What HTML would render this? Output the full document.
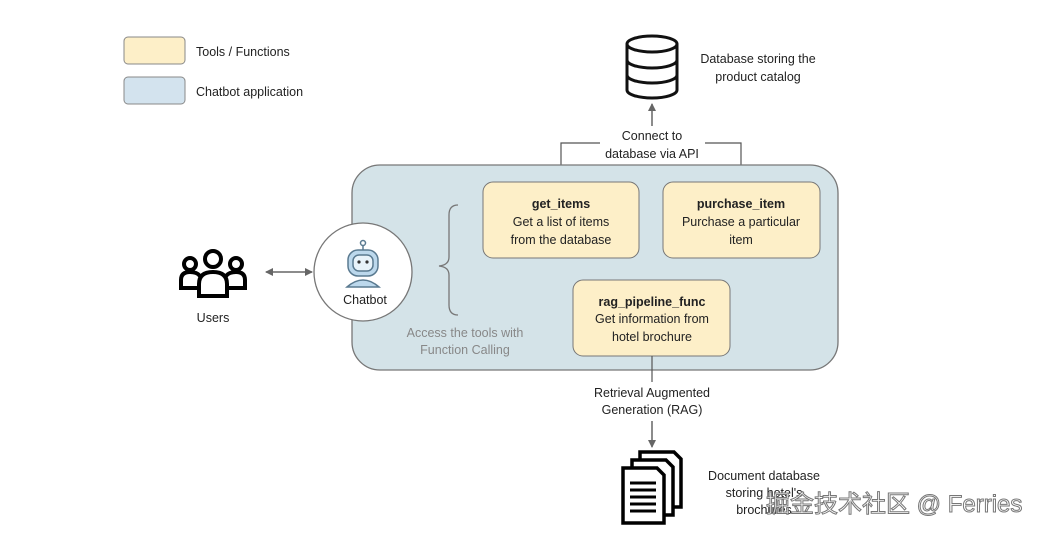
<!DOCTYPE html>
<html><head><meta charset="utf-8"><style>
body{margin:0;background:#fff;}
svg text{font-family:"Liberation Sans","DejaVu Sans",sans-serif;font-size:12.5px;fill:#222;}
</style></head><body>
<svg width="1046" height="534" viewBox="0 0 1046 534" xmlns="http://www.w3.org/2000/svg">
<defs>
<marker id="a" markerWidth="8" markerHeight="8" refX="7" refY="4" orient="auto" markerUnits="userSpaceOnUse"><path d="M0,0 L8,4 L0,8z" fill="#666"/></marker>
<marker id="b" markerWidth="8" markerHeight="8" refX="1" refY="4" orient="auto" markerUnits="userSpaceOnUse"><path d="M8,0 L0,4 L8,8z" fill="#666"/></marker>
</defs>
<rect x="124" y="37" width="61" height="27" rx="4" fill="#fdefc8" stroke="#888"/>
<rect x="124" y="77" width="61" height="27" rx="4" fill="#d3e3ee" stroke="#888"/>
<text x="196" y="56">Tools / Functions</text>
<text x="196" y="96">Chatbot application</text>
<!-- db -->
<g fill="#fff" stroke="#111" stroke-width="3">
<path d="M627,44 v46 a25,8 0 0 0 50,0 v-46"/>
<ellipse cx="652" cy="44" rx="25" ry="8"/>
<path d="M627,60 a25,8 0 0 0 50,0 M627,75 a25,8 0 0 0 50,0" fill="none"/>
</g>
<text x="758" y="63" text-anchor="middle">Database storing the</text>
<text x="758" y="81" text-anchor="middle">product catalog</text>
<line x1="652" y1="126" x2="652" y2="104" stroke="#666" stroke-width="1.5" marker-end="url(#a)"/>
<text x="652" y="140" text-anchor="middle">Connect to</text>
<text x="652" y="158" text-anchor="middle">database via API</text>
<path d="M600,143 H561 V182 M705,143 H741 V182" fill="none" stroke="#555" stroke-width="1.2"/>
<rect x="352" y="165" width="486" height="205" rx="28" fill="#d4e3e8" stroke="#777" stroke-width="1.3"/>
<rect x="483" y="182" width="156" height="76" rx="10" fill="#fdefc8" stroke="#777"/>
<rect x="663" y="182" width="157" height="76" rx="10" fill="#fdefc8" stroke="#777"/>
<rect x="573" y="280" width="157" height="76" rx="10" fill="#fdefc8" stroke="#777"/>
<text x="561" y="208" text-anchor="middle" font-weight="bold">get_items</text>
<text x="561" y="226" text-anchor="middle">Get a list of items</text>
<text x="561" y="244" text-anchor="middle">from the database</text>
<text x="741" y="208" text-anchor="middle" font-weight="bold">purchase_item</text>
<text x="741" y="226" text-anchor="middle">Purchase a particular</text>
<text x="741" y="244" text-anchor="middle">item</text>
<text x="652" y="306" text-anchor="middle" font-weight="bold">rag_pipeline_func</text>
<text x="652" y="323" text-anchor="middle">Get information from</text>
<text x="652" y="341" text-anchor="middle">hotel brochure</text>
<path d="M458,205 q-9,0 -9,10 v42 q0,8 -10,9 q10,1 10,9 v30 q0,10 9,10" fill="none" stroke="#777" stroke-width="1.3"/>
<text x="465" y="337" text-anchor="middle" style="fill:#888">Access the tools with</text>
<text x="465" y="354" text-anchor="middle" style="fill:#888">Function Calling</text>
<circle cx="363" cy="272" r="49" fill="#fff" stroke="#777" stroke-width="1.3"/>
<!-- robot -->
<g stroke="#5a7a90" stroke-width="1.5" fill="#bcd8ec">
<line x1="363" y1="244" x2="363" y2="250"/><circle cx="363" cy="243" r="2.5" fill="#fff"/>
<path d="M347,287 q16,-14 32,0 z"/>
<rect x="348" y="250" width="30" height="26" rx="10"/>
<rect x="353" y="255" width="20" height="16" rx="6" fill="#e8f3fa"/>
</g>
<circle cx="359" cy="262" r="1.6" fill="#333"/><circle cx="367" cy="262" r="1.6" fill="#333"/>
<text x="365" y="304" text-anchor="middle">Chatbot</text>
<line x1="266" y1="272" x2="312" y2="272" stroke="#666" stroke-width="1.5" marker-end="url(#a)" marker-start="url(#b)"/>
<!-- users -->
<g fill="none" stroke="#000" stroke-width="4">
<circle cx="213" cy="259" r="8"/><circle cx="190" cy="264" r="6"/><circle cx="236" cy="264" r="6"/>
<path d="M199,296 v-12 q0,-12 14,-12 q14,0 14,12 v12 z"/>
<path d="M199,288 h-18 v-8 q0,-8 9,-8 q7,0 10,4 M227,288 h18 v-8 q0,-8 -9,-8 q-7,0 -10,4"/>
</g>
<text x="213" y="322" text-anchor="middle">Users</text>
<line x1="652" y1="356" x2="652" y2="382" stroke="#555" stroke-width="1.2"/>
<text x="652" y="397" text-anchor="middle">Retrieval Augmented</text>
<text x="652" y="414" text-anchor="middle">Generation (RAG)</text>
<line x1="652" y1="421" x2="652" y2="447" stroke="#666" stroke-width="1.5" marker-end="url(#a)"/>
<!-- docs -->
<g fill="#fff" stroke="#000" stroke-width="3.5">
<path d="M640,452 h34 l7,7 v48 h-41 z"/>
<path d="M632,460 h34 l7,7 v48 h-41 z"/>
<path d="M623,468 h34 l7,7 v48 h-41 z"/>
</g>
<g stroke="#000" stroke-width="3"><line x1="630" y1="483" x2="656" y2="483"/><line x1="630" y1="490" x2="656" y2="490"/><line x1="630" y1="497" x2="656" y2="497"/><line x1="630" y1="504" x2="656" y2="504"/><line x1="630" y1="511" x2="656" y2="511"/></g>
<text x="764" y="480" text-anchor="middle">Document database</text>
<text x="764" y="497" text-anchor="middle">storing hotel's</text>
<text x="764" y="514" text-anchor="middle">brochures</text>
<text x="766" y="512" style="font-family:'Liberation Sans','Noto Sans CJK SC',sans-serif;font-size:24px;fill:#fff;stroke:#777;stroke-width:1">掘金技术社区 @ Ferries</text>
</svg>
</body></html>
